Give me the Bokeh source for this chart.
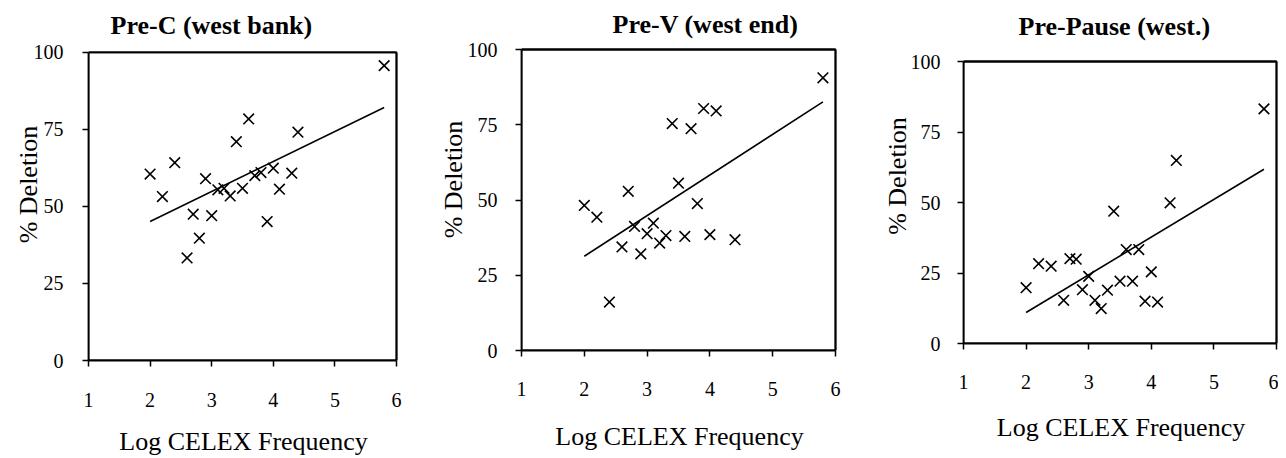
from bokeh.plotting import figure
from bokeh.models import Range1d, FixedTicker, Label
from bokeh.embed import file_html
from bokeh.resources import INLINE

# ---- data ----
titles = ["Pre-C (west bank)", "Pre-V (west end)", "Pre-Pause (west.)"]
x_label = "Log CELEX Frequency"
y_label = "% Deletion"
x_ticks = [1, 2, 3, 4, 5, 6]
y_ticks = [0, 25, 50, 75, 100]

prec_x = [2.0, 2.2, 2.4, 2.6, 2.7, 2.8, 2.9, 3.0, 3.1, 3.2, 3.3, 3.4, 3.5, 3.6,
          3.7, 3.8, 3.9, 4.0, 4.1, 4.3, 4.4, 5.8]
prec_y = [60.5, 53.2, 64.2, 33.3, 47.5, 39.7, 59.0, 47.0, 55.4, 55.9, 53.4, 71.0,
          55.9, 78.4, 60.0, 61.0, 45.1, 62.4, 55.6, 60.8, 74.1, 95.7]
prec_trend_x = [2.0, 5.8]
prec_trend_y = [45.1, 82.1]

prev_x = [2.0, 2.2, 2.4, 2.6, 2.7, 2.8, 2.9, 3.0, 3.1, 3.2, 3.3, 3.4, 3.5, 3.6,
          3.7, 3.8, 3.9, 4.0, 4.1, 4.4, 5.8]
prev_y = [48.2, 44.3, 16.1, 34.4, 52.9, 41.2, 32.1, 38.8, 42.3, 35.7, 38.2, 75.4,
          55.6, 37.9, 73.7, 48.8, 80.4, 38.5, 79.6, 36.8, 90.6]
prev_trend_x = [2.0, 5.8]
prev_trend_y = [31.3, 82.6]

prep_x = [2.0, 2.2, 2.4, 2.6, 2.7, 2.8, 2.9, 3.0, 3.1, 3.2, 3.3, 3.4, 3.5, 3.6,
          3.7, 3.8, 3.9, 4.0, 4.1, 4.3, 4.4, 5.8]
prep_y = [19.8, 28.3, 27.4, 15.3, 30.1, 29.9, 19.1, 23.8, 15.3, 12.4, 18.9, 46.9,
          22.1, 33.3, 22.1, 33.3, 15.0, 25.4, 14.7, 49.9, 64.9, 83.2]
prep_trend_x = [2.0, 5.8]
prep_trend_y = [11.0, 61.8]

X_MIN, X_MAX = 1.0, 6.0
Y_MIN, Y_MAX = 0.0, 100.0

FONT = "Liberation Serif"
HEIGHT = 450

# pixel layout of each panel (canvas pixels): plot-box left/right, top/bottom
panels = [
    dict(title=titles[0], xs=prec_x, ys=prec_y, tx=prec_trend_x, ty=prec_trend_y,
         w=422, box_l=80, box_r=388, box_t=44, box_b=353, pad_r=2,
         tx_off=22, ty_off=27, ys_std=19, ya_std=-12, xs_std=26, xa_std=17),
    dict(title=titles[1], xs=prev_x, ys=prev_y, tx=prev_trend_x, ty=prev_trend_y,
         w=440, box_l=91, box_r=405, box_t=41, box_b=342, pad_r=2,
         tx_off=91, ty_off=25, ys_std=18, ya_std=-3, xs_std=25, xa_std=23),
    dict(title=titles[2], xs=prep_x, ys=prep_y, tx=prep_trend_x, ty=prep_trend_y,
         w=408, box_l=93, box_r=406, box_t=53, box_b=335, pad_r=2,
         tx_off=55, ty_off=35, ys_std=17, ya_std=-4, xs_std=25, xa_std=21),
]

figs = []
for pp in panels:
    # frame spans from the canvas top down to the x axis, and 2px past x=6,
    # so that the title and the closing box lines sit inside the frame
    x_px = (pp["box_r"] - pp["box_l"]) / (X_MAX - X_MIN)
    y_px = (pp["box_b"] - pp["box_t"]) / (Y_MAX - Y_MIN)
    frame_w = pp["box_r"] - pp["box_l"] + pp["pad_r"]
    x_hi = X_MIN + frame_w / x_px
    y_hi = Y_MIN + pp["box_b"] / y_px

    p = figure(output_backend="svg", toolbar_location=None,
               width=pp["w"], height=HEIGHT,
               min_border_left=pp["box_l"],
               min_border_right=pp["w"] - pp["box_l"] - frame_w,
               min_border_top=0, min_border_bottom=HEIGHT - pp["box_b"],
               x_range=Range1d(X_MIN, x_hi), y_range=Range1d(Y_MIN, y_hi),
               title=None, background_fill_color="white",
               border_fill_color="white")
    p.xgrid.visible = False
    p.ygrid.visible = False
    p.outline_line_color = None

    xa = p.below[0]
    ya = p.left[0]
    for ax in (xa, ya):
        ax.axis_line_color = "black"
        ax.axis_line_width = 1.8
        ax.major_tick_line_color = "black"
        ax.major_tick_line_width = 1.5
        ax.major_tick_in = 0
        ax.major_tick_out = 6
        ax.minor_tick_line_color = None
        ax.major_label_text_font = FONT
        ax.major_label_text_font_size = "20px"
        ax.major_label_text_color = "black"
        ax.axis_label_text_font = FONT
        ax.axis_label_text_font_size = "26px"
        ax.axis_label_text_font_style = "normal"
        ax.axis_label_text_color = "black"

    xa.ticker = FixedTicker(ticks=x_ticks)
    ya.ticker = FixedTicker(ticks=y_ticks)
    xa.bounds = (X_MIN, X_MAX)
    ya.bounds = (Y_MIN, Y_MAX)
    xa.axis_label = x_label
    ya.axis_label = y_label
    xa.major_label_standoff = pp["xs_std"]
    xa.axis_label_standoff = pp["xa_std"]
    ya.major_label_standoff = pp["ys_std"]
    ya.axis_label_standoff = pp["ya_std"]

    # plot box: an unfilled quad over the data area (left/bottom sit on the axes)
    p.quad(left=[X_MIN], right=[X_MAX], bottom=[Y_MIN], top=[Y_MAX],
           fill_color=None, fill_alpha=0, line_color="black", line_width=1.8)
    # closing lines of the plot box (top and right edges) as a multi-line too
    p.multi_line(xs=[[X_MIN, X_MAX], [X_MAX, X_MAX]],
                 ys=[[Y_MAX, Y_MAX], [Y_MAX, Y_MIN]],
                 line_color="black", line_width=1.8)

    p.add_layout(Label(x=X_MIN, y=Y_MAX, x_offset=pp["tx_off"], y_offset=pp["ty_off"],
                       text=pp["title"], text_font=FONT, text_font_size="26px",
                       text_font_style="bold", text_color="black",
                       text_align="left", text_baseline="middle"))

    p.line(pp["tx"], pp["ty"], line_color="black", line_width=1.6)
    p.scatter(pp["xs"], pp["ys"], marker="x", size=15, line_color="black",
              line_width=1.6)
    figs.append(p)

html = file_html(figs, INLINE)
css = ("<style>body{display:flex;flex-direction:row;align-items:flex-start;"
       "margin:8px;} body > div, body > div > div{flex:none;}</style>")
html = html.replace("</head>", css + "</head>", 1)
open("out.html", "w").write(html)
